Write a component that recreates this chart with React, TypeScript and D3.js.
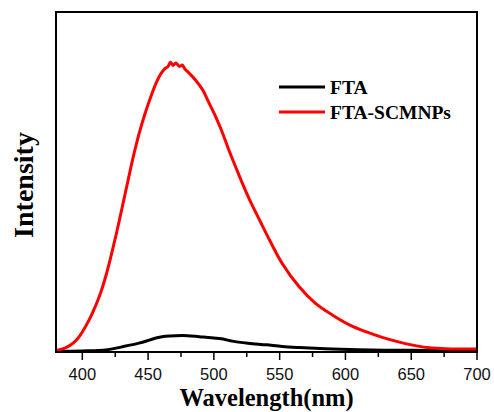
import React, { useEffect, useRef } from 'react';
import * as d3 from 'd3';

// wavelength (nm) / intensity (a.u.)
const redWl = [380, 382, 385, 390, 393, 397, 400, 405, 410, 414, 418, 422, 426, 430, 434.5, 438.5, 443, 448, 452, 456, 460, 463, 465, 467, 469, 471, 474, 476, 478, 481, 486, 491.5, 496, 501.5, 506, 511, 517, 522, 527, 535, 542.5, 552, 565, 577, 590, 603, 616, 628, 641, 654, 666, 680, 700];
const redI = [0.6, 0.6, 0.9, 1.8, 2.6, 4.2, 5.9, 9.3, 13.5, 17.5, 22.5, 28.5, 35.0, 42.0, 50.0, 57.0, 64.0, 70.5, 75.0, 79.0, 82.0, 83.4, 83.9, 85.2, 84.3, 85.0, 84.0, 84.4, 83.2, 82.1, 80.0, 77.1, 73.5, 69.1, 65.0, 59.8, 54.0, 49.3, 44.9, 38.6, 32.8, 26.0, 19.1, 14.4, 10.9, 8.0, 5.9, 4.3, 2.9, 1.8, 1.2, 0.9, 0.9];

const blackWl = [380, 400, 418, 430, 443, 451, 456, 463, 471, 480, 489, 498, 507, 514, 526, 540, 552, 565, 590, 620, 650, 700];
const blackI = [0.2, 0.3, 0.6, 1.5, 2.6, 3.5, 4.1, 4.6, 4.8, 4.8, 4.5, 4.2, 3.8, 3.2, 2.6, 2.1, 1.6, 1.3, 0.9, 0.6, 0.5, 0.4];

const seriesNames = ['FTA', 'FTA-SCMNPs'];
const seriesColors = ['#000000', '#ff0000'];

const xMajor = [400, 450, 500, 550, 600, 650, 700];
const xMinor = [425, 475, 525, 575, 625, 675];

const W = 494;
const H = 412;
const margin = { top: 12, right: 17, bottom: 60, left: 56 };

const App = () => {
  const ref = useRef<SVGSVGElement>(null);

  useEffect(() => {
    const svg = d3.select(ref.current);
    svg.selectAll('*').remove();

    const width = W - margin.left - margin.right;
    const height = H - margin.top - margin.bottom;

    const x = d3.scaleLinear().domain([380, 700]).range([margin.left, margin.left + width]);
    const y = d3.scaleLinear().domain([0, 100]).range([margin.top + height, margin.top]);

    const line = d3.line<[number, number]>()
      .x(d => x(d[0]))
      .y(d => y(d[1]))
      .curve(d3.curveCatmullRom.alpha(0.5));

    const black = blackWl.map((w, i) => [w, blackI[i]] as [number, number]);
    const red = redWl.map((w, i) => [w, redI[i]] as [number, number]);

    // spectra
    svg.append('path')
      .datum(black)
      .attr('fill', 'none')
      .attr('stroke', seriesColors[0])
      .attr('stroke-width', 3)
      .attr('d', line);

    svg.append('path')
      .datum(red)
      .attr('fill', 'none')
      .attr('stroke', seriesColors[1])
      .attr('stroke-width', 3)
      .attr('d', line);

    // frame
    svg.append('rect')
      .attr('x', margin.left)
      .attr('y', margin.top)
      .attr('width', width)
      .attr('height', height)
      .attr('fill', 'none')
      .attr('stroke', '#000')
      .attr('stroke-width', 2);

    // x axis ticks
    const axisY = margin.top + height;
    svg.append('g')
      .selectAll('line.major')
      .data(xMajor)
      .enter()
      .append('line')
        .attr('x1', d => x(d))
        .attr('x2', d => x(d))
        .attr('y1', axisY)
        .attr('y2', axisY + 8)
        .attr('stroke', '#000')
        .attr('stroke-width', 1.5);

    svg.append('g')
      .selectAll('line.minor')
      .data(xMinor)
      .enter()
      .append('line')
        .attr('x1', d => x(d))
        .attr('x2', d => x(d))
        .attr('y1', axisY)
        .attr('y2', axisY + 5)
        .attr('stroke', '#000')
        .attr('stroke-width', 1.5);

    svg.append('g')
      .selectAll('text')
      .data(xMajor)
      .enter()
      .append('text')
        .attr('x', d => x(d))
        .attr('y', axisY + 28)
        .attr('text-anchor', 'middle')
        .style('font-family', '"Liberation Sans", Arial, sans-serif')
        .style('font-size', '16.5px')
        .style('fill', '#111')
        .text(d => d);

    // axis titles
    svg.append('text')
      .attr('x', margin.left + width / 2)
      .attr('y', 406)
      .attr('text-anchor', 'middle')
      .style('font-family', '"Liberation Serif", "Times New Roman", serif')
      .style('font-weight', 'bold')
      .style('font-size', '24.5px')
      .text('Wavelength(nm)');

    svg.append('text')
      .attr('transform', 'translate(33,185) rotate(-90)')
      .attr('text-anchor', 'middle')
      .style('font-family', '"Liberation Serif", "Times New Roman", serif')
      .style('font-weight', 'bold')
      .style('font-size', '28px')
      .text('Intensity');

    // legend
    const legend = svg.append('g');
    seriesNames.forEach((name, i) => {
      const ly = 87 + i * 25;
      legend.append('line')
        .attr('x1', 279)
        .attr('x2', 325)
        .attr('y1', ly)
        .attr('y2', ly)
        .attr('stroke', seriesColors[i])
        .attr('stroke-width', 3);
      legend.append('text')
        .attr('x', 330)
        .attr('y', ly + 6.5)
        .style('font-family', '"Liberation Serif", "Times New Roman", serif')
        .style('font-weight', 'bold')
        .style('font-size', '19.5px')
        .text(name);
    });
  }, []);

  return (
    <svg
      ref={ref}
      width={W}
      height={H}
      style={{ position: 'absolute', left: 0, top: 0, background: '#fff' }}
    />
  );
};

export default App;
